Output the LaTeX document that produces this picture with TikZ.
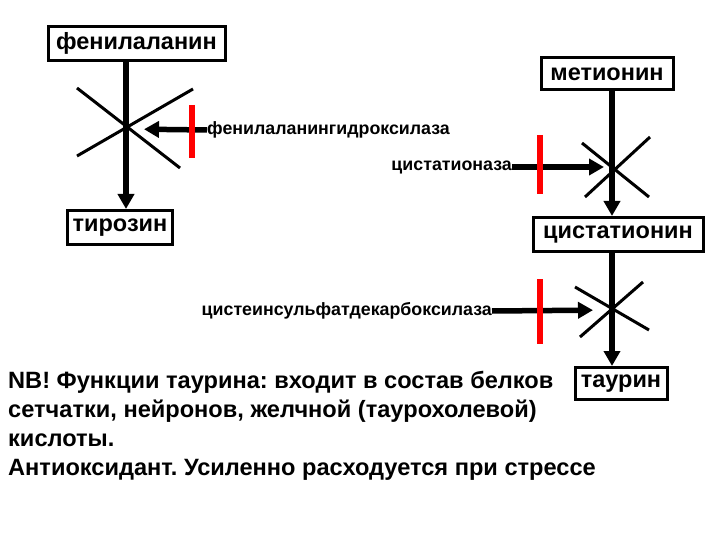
\documentclass[tikz,border=0pt]{standalone}
\usepackage{fontspec}
\setmainfont{Liberation Sans}
\usetikzlibrary{arrows.meta}
\frenchspacing

\begin{document}
\begin{tikzpicture}[x=1pt,y=-1pt,
  substance/.style={draw,line width=3pt,inner sep=0pt,minimum height=34pt,font=\fontsize{23.5}{26}\selectfont\bfseries},
  enzyme/.style={inner sep=0pt,font=\fontsize{17.8}{20}\selectfont\bfseries},
  flow/.style={line width=5.5pt,-{Triangle[length=15pt,width=16pt]}},
  block/.style={draw=red,line width=6.5pt},
  cross/.style={line width=3pt}]
\useasboundingbox (0,0) rectangle (720,540);
% substances
\node[substance,minimum width=177pt] (phe) at (136.5,43.5) {фенилаланин};
\node[substance,minimum width=105pt] (tyr) at (120,227.5) {тирозин};
\node[substance,minimum width=132pt,minimum height=32pt] (met) at (607,74) {метионин};
\node[substance,minimum width=170pt] (cth) at (618,234.5) {цистатионин};
\node[substance,minimum width=92pt,minimum height=32pt] (tau) at (621,383.5) {таурин};
% blocked steps
\coordinate (c1) at (126,129);
\coordinate (c2) at (612,167);
\coordinate (c3) at (612,310);
\draw[cross,shift={(c1)}] (-49,-41) -- (54,39) (-49,27) -- (67,-40);
\draw[cross,shift={(c2)}] (-30,-24) -- (37,30) (-27,30) -- (38,-30);
\draw[cross,shift={(c3)}] (-37,-23) -- (37,20) (-32,27) -- (31,-28);
\draw[flow] (phe.south -| c1) -- (tyr.north -| c1);
\draw[flow] (met.south -| c2) -- (cth.north -| c2);
\draw[flow] (cth.south -| c3) -- (tau.north -| c3);
% enzymes
\node[enzyme,anchor=west] (e1) at (207,130) {фенилаланингидроксилаза};
\node[enzyme,anchor=east] (e2) at (512,167) {цистатионаза};
\node[enzyme,anchor=east] (e3) at (492,311) {цистеинсульфатдекарбоксилаза};
\draw[flow,shorten >=18pt] (e1.west) -- (c1);
\draw[flow,shorten >=8pt] (e2.east) -- (c2);
\draw[flow,shorten >=19pt] (e3.east) -- (c3);
\draw[block] (192,105) -- (192,158);
\draw[block] (540,135) -- (540,194);
\draw[block] (540,279) -- (540,344);
% note
\node[anchor=north west,align=left,inner sep=0pt,font=\fontsize{23.6}{29}\selectfont\bfseries] (note) at (8,371)
  {NB! Функции таурина: входит в состав белков\\
   сетчатки, нейронов, желчной (таурохолевой)\\
   кислоты.\\
   Антиоксидант. Усиленно расходуется при стрессе};
\end{tikzpicture}
\end{document}
